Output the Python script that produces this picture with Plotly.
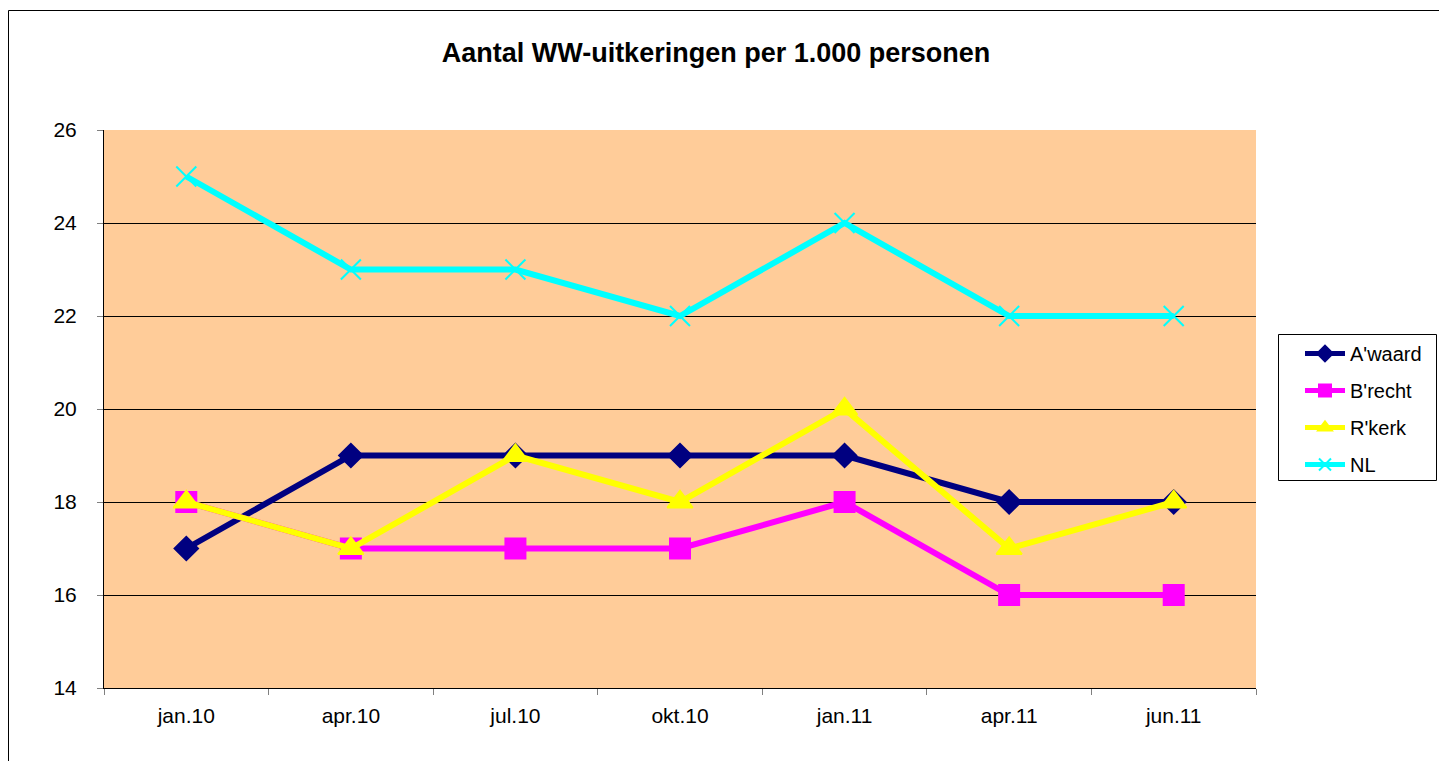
import plotly.graph_objects as go

months = ["jan.10", "apr.10", "jul.10", "okt.10", "jan.11", "apr.11", "jun.11"]
awaard = [17, 19, 19, 19, 19, 18, 18]
brecht = [18, 17, 17, 17, 18, 16, 16]
rkerk = [18, 17, 19, 18, 20, 17, 18]
nl = [25, 23, 23, 22, 24, 22, 22]

series = [
    ("A'waard", awaard, "#000080", "diamond", 18),
    ("B'recht", brecht, "#FF00FF", "square", 20),
    ("R'kerk", rkerk, "#FFFF00", "triangle-up", 22),
    ("NL", nl, "#00FFFF", "x-thin-open", 20),
]

font_family = "Liberation Sans, Arial, sans-serif"

fig = go.Figure()
for name, values, color, symbol, size in series:
    fig.add_trace(
        go.Scatter(
            x=months,
            y=values,
            name=name,
            legendgroup=name,
            mode="lines+markers",
            line=dict(color=color, width=6),
            marker=dict(
                symbol=symbol,
                size=size,
                color=color,
                line=dict(color=color, width=2),
            ),
        )
    )


def px_x(x):
    # page pixel -> paper x (page has an 8px body margin)
    return (x - 8 - 96) / 1152


def px_y(y):
    return (680 - (y - 8)) / 558


fig.update_layout(
    width=1447,
    height=761,
    margin=dict(l=96, r=199, t=122, b=81),
    paper_bgcolor="white",
    plot_bgcolor="#FFCC99",
    font=dict(family=font_family, color="black", size=21),
    title=dict(
        text="<b>Aantal WW-uitkeringen per 1.000 personen</b>",
        x=708 / 1447,
        xanchor="center",
        y=1 - 45 / 761,
        yanchor="middle",
        font=dict(size=27, family=font_family),
    ),
    showlegend=True,
    legend=dict(
        x=px_x(1300),
        xanchor="left",
        y=px_y(334),
        yanchor="top",
        borderwidth=0,
        bgcolor="rgba(0,0,0,0)",
        font=dict(size=20, family=font_family),
        tracegroupgap=8,
        traceorder="grouped",
        itemwidth=40,
        itemsizing="constant",
    ),
    xaxis=dict(
        type="category",
        tickson="boundaries",
        ticks="outside",
        ticklen=6,
        tickcolor="#808080",
        showline=True,
        linecolor="black",
        linewidth=1,
        showgrid=False,
        tickfont=dict(size=21),
        ticklabelstandoff=9,
        range=[-0.5, 6.5],
    ),
    yaxis=dict(
        range=[14, 26],
        dtick=2,
        ticks="outside",
        ticklen=6,
        tickcolor="#808080",
        showline=True,
        linecolor="black",
        linewidth=1,
        showgrid=True,
        gridcolor="black",
        gridwidth=1,
        zeroline=False,
        tickfont=dict(size=21),
        ticklabelstandoff=16,
    ),
    shapes=[
        # outer chart border
        dict(
            type="rect",
            xref="paper",
            yref="paper",
            x0=px_x(8.5),
            x1=1.3,
            y0=-0.3,
            y1=px_y(10.5),
            line=dict(color="black", width=1),
            fillcolor="rgba(0,0,0,0)",
            layer="below",
        ),
        # legend box
        dict(
            type="rect",
            xref="paper",
            yref="paper",
            x0=px_x(1278.5),
            x1=px_x(1436.5),
            y0=px_y(480.5),
            y1=px_y(334.5),
            line=dict(color="black", width=1),
            fillcolor="white",
            layer="below",
        ),
    ],
)

fig.write_html("out.html")
